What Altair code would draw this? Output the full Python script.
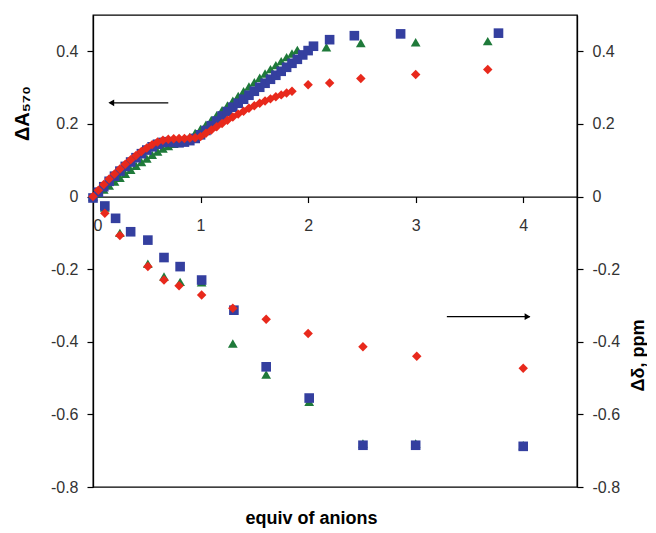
import altair as alt
import pandas as pd

# ---------- upper curves: ΔA570 vs equiv of anions ----------
green_a_x = [0.00, 0.05, 0.10, 0.15, 0.20, 0.25, 0.30, 0.35, 0.40, 0.45, 0.50, 0.55, 0.60, 0.65,
             0.70, 0.75, 0.80, 0.85, 0.90, 0.95, 1.00, 1.05, 1.10, 1.15, 1.20, 1.25, 1.30, 1.35,
             1.40, 1.45, 1.50, 1.55, 1.60, 1.65, 1.70, 1.75, 1.80, 1.85, 1.90, 2.17, 2.49, 3.00, 3.67]
green_a_y = [0.000, 0.008, 0.019, 0.030, 0.041, 0.052, 0.063, 0.074, 0.085, 0.095, 0.105, 0.115, 0.124, 0.132,
             0.139, 0.145, 0.150, 0.156, 0.164, 0.175, 0.186, 0.198, 0.211, 0.224, 0.238, 0.251, 0.264, 0.277,
             0.290, 0.303, 0.315, 0.327, 0.339, 0.351, 0.362, 0.373, 0.384, 0.394, 0.404, 0.411, 0.423, 0.425, 0.428]

blue_a_x = [0.00, 0.05, 0.10, 0.15, 0.20, 0.25, 0.30, 0.35, 0.40, 0.45, 0.50, 0.55, 0.60, 0.65,
            0.70, 0.75, 0.80, 0.85, 0.90, 0.95, 1.00, 1.05, 1.10, 1.15, 1.20, 1.25, 1.30, 1.35,
            1.40, 1.45, 1.50, 1.55, 1.60, 1.65, 1.70, 1.75, 1.80, 1.85, 1.90, 1.95, 2.00, 2.05,
            2.20, 2.43, 2.86, 3.77]
blue_a_y = [-0.004, 0.012, 0.027, 0.042, 0.056, 0.070, 0.083, 0.095, 0.107, 0.118, 0.128, 0.137, 0.144, 0.149,
            0.151, 0.149, 0.148, 0.150, 0.154, 0.160, 0.170, 0.182, 0.195, 0.208, 0.222, 0.234, 0.246, 0.257,
            0.268, 0.279, 0.290, 0.301, 0.312, 0.323, 0.334, 0.345, 0.356, 0.367, 0.378, 0.390, 0.402, 0.414,
            0.432, 0.443, 0.448, 0.450]

red_a_x = [0.00, 0.05, 0.10, 0.15, 0.20, 0.25, 0.30, 0.35, 0.40, 0.45, 0.50, 0.55, 0.60, 0.65,
           0.70, 0.75, 0.80, 0.85, 0.90, 0.95, 1.00, 1.05, 1.10, 1.15, 1.20, 1.25, 1.30, 1.35,
           1.40, 1.45, 1.50, 1.55, 1.60, 1.65, 1.70, 1.75, 1.80, 1.85, 2.00, 2.20, 2.49, 3.00, 3.67]
red_a_y = [0.000, 0.017, 0.033, 0.048, 0.062, 0.076, 0.089, 0.101, 0.113, 0.124, 0.134, 0.143, 0.150, 0.155,
           0.158, 0.159, 0.160, 0.160, 0.161, 0.162, 0.165, 0.174, 0.183, 0.192, 0.201, 0.210, 0.219, 0.227,
           0.235, 0.243, 0.250, 0.257, 0.263, 0.269, 0.275, 0.280, 0.285, 0.290, 0.308, 0.313, 0.325, 0.336, 0.350]

# ---------- lower points: Δδ (ppm) vs equiv of anions ----------
green_d_x = [0.11, 0.25, 0.51, 0.66, 0.81, 1.01, 1.30, 1.61, 2.01, 2.51, 3.00, 4.00]
green_d_y = [-0.030, -0.100, -0.185, -0.220, -0.235, -0.236, -0.405, -0.490, -0.565, -0.680, -0.680, -0.685]

blue_d_x = [0.11, 0.21, 0.35, 0.51, 0.66, 0.81, 1.01, 1.31, 1.61, 2.01, 2.51, 3.00, 4.00]
blue_d_y = [-0.026, -0.060, -0.097, -0.120, -0.168, -0.193, -0.230, -0.313, -0.469, -0.555, -0.685, -0.685, -0.688]

red_d_x = [0.11, 0.25, 0.51, 0.66, 0.80, 1.01, 1.30, 1.61, 2.00, 2.51, 3.01, 4.00]
red_d_y = [-0.046, -0.107, -0.193, -0.230, -0.246, -0.271, -0.308, -0.338, -0.377, -0.414, -0.440, -0.473]

series_names = ["green", "blue", "red"]
series_colors = ["#1f7a3a", "#343f9f", "#e8291c"]
series_shapes = ["triangle-up", "square", "diamond"]
series_sizes = [95, 90, 130]

# arrows (annotation): left arrow points to left axis, right arrow to right axis
arrow_x = [0.16, 3.29]
arrow_x2 = [0.70, 4.06]
arrow_y = [0.258, -0.331]
arrow_head_x = [0.17, 4.04]
arrow_head_shape = ["triangle-left", "triangle-right"]


def table(parts):
    rows = []
    for xs, ys, name in parts:
        for a, b in zip(xs, ys):
            rows.append({"x": a, "y": b, "series": name})
    return pd.DataFrame(rows)


abs_df = table([(green_a_x, green_a_y, "green"), (blue_a_x, blue_a_y, "blue"), (red_a_x, red_a_y, "red")])
nmr_df = table([(green_d_x, green_d_y, "green"), (blue_d_x, blue_d_y, "blue"), (red_d_x, red_d_y, "red")])
arrow_df = pd.DataFrame({"x": arrow_x, "x2": arrow_x2, "y": arrow_y})
head_df = pd.DataFrame({"x": arrow_head_x, "y": arrow_y, "shape": arrow_head_shape})

W, H = 484, 472
YMIN, YMAX = -0.8, 0.5
zero_px = H * YMAX / (YMAX - YMIN)

FONT = "Liberation Sans"
label_expr = "datum.value == 0 ? '0' : (datum.value < 0 ? '-' : '') + format(abs(datum.value), '.1f')"
y_vals = [-0.8, -0.6, -0.4, -0.2, 0, 0.2, 0.4]

x_enc = alt.X(
    "x:Q",
    scale=alt.Scale(domain=[0, 4.5], nice=False, zero=False),
    axis=alt.Axis(
        values=[0, 1, 2, 3, 4], format="d", offset=-(H - zero_px), grid=False,
        domainColor="black", domainWidth=1.3, tickColor="black", tickSize=6, tickWidth=1.2,
        labelPadding=15, labelFontSize=16, labelColor="#333", labelFont=FONT,
        title="equiv of anions", titleFont=FONT, titleFontSize=18, titleFontWeight="bold",
        titleX=218, titleY=327, titleAlign="center", titleBaseline="alphabetic", titleColor="black",
    ),
)

y_scale = alt.Scale(domain=[YMIN, YMAX], nice=False, zero=False)

color_enc = alt.Color("series:N", scale=alt.Scale(domain=series_names, range=series_colors), legend=None)
shape_enc = alt.Shape("series:N", scale=alt.Scale(domain=series_names, range=series_shapes), legend=None)
size_enc = alt.Size("series:N", scale=alt.Scale(domain=series_names, range=series_sizes), legend=None)

common_axis = dict(
    values=y_vals, labelExpr=label_expr, grid=False,
    domainColor="black", domainWidth=1.3, tickColor="black", tickSize=6, tickWidth=1.2,
    labelPadding=9, labelFontSize=16, labelColor="#333", labelFont=FONT,
    titleFont=FONT, titleFontWeight="bold", titleColor="black",
    titleAngle=270, titleAlign="center", titleBaseline="middle",
)

upper = alt.Chart(abs_df).mark_point(filled=True, opacity=1, strokeWidth=0).encode(
    x=x_enc,
    y=alt.Y("y:Q", scale=y_scale,
            axis=alt.Axis(orient="left", title="ΔA₅₇₀", titleX=-71, titleY=98, titleFontSize=20,
                          **common_axis)),
    color=color_enc,
    shape=shape_enc,
    size=size_enc,
)

lower = alt.Chart(nmr_df).mark_point(filled=True, opacity=1, strokeWidth=0).encode(
    x=x_enc,
    y=alt.Y("y:Q", scale=y_scale,
            axis=alt.Axis(orient="right", title="Δδ, ppm", titleX=61, titleY=340, titleFontSize=18,
                          **common_axis)),
    color=color_enc,
    shape=shape_enc,
    size=size_enc,
)

arrow_lines = alt.Chart(arrow_df).mark_rule(color="black", strokeWidth=1.2).encode(
    x=x_enc,
    x2="x2:Q",
    y=alt.Y("y:Q", scale=y_scale, axis=None),
)

arrow_heads = alt.Chart(head_df).mark_point(filled=True, color="black", size=45, opacity=1).encode(
    x=x_enc,
    y=alt.Y("y:Q", scale=y_scale, axis=None),
    shape=alt.Shape("shape:N", scale=None),
)

chart = alt.layer(upper, lower, arrow_lines, arrow_heads).resolve_scale(
    y="independent"
).properties(
    width=W, height=H,
    autosize=alt.AutoSizeParams(type="none"),
    padding={"left": 85, "top": 7, "right": 70, "bottom": 44},
    background="white",
).configure_view(stroke="black", strokeWidth=1.3)

chart.save("out.html", embed_options={"renderer": "svg", "actions": False})
